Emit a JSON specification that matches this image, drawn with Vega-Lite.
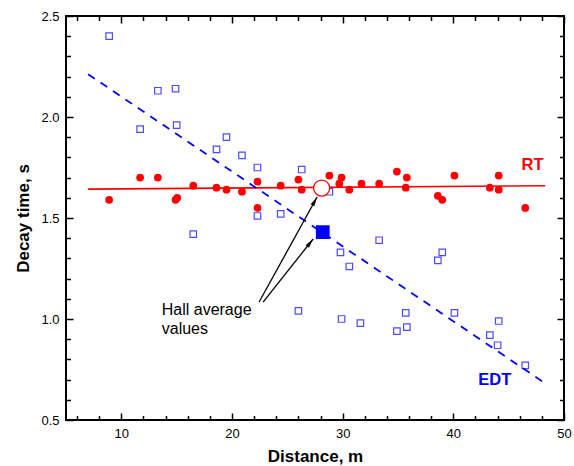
{
  "$schema": "https://vega.github.io/schema/vega-lite/v6.json",
  "width": 498,
  "height": 404,
  "autosize": "none",
  "padding": {"left": 66, "top": 16, "right": 10, "bottom": 46},
  "background": "white",
  "config": {
    "view": {"stroke": null},
    "font": "Liberation Sans",
    "axis": {
      "grid": false,
      "domain": false,
      "ticks": true,
      "tickColor": "#000000",
      "tickWidth": 1.5,
      "labelColor": "black",
      "titleColor": "black",
      "labelFont": "Liberation Sans",
      "titleFont": "Liberation Sans",
      "labelFontSize": 13,
      "titleFontSize": 17,
      "titleFontWeight": "bold",
      "labelOverlap": false,
      "labelFlush": false,
      "labelBound": false
    }
  },
  "datasets": {
    "frame": [{"x0": 5, "x1": 50, "y0": 0.5, "y1": 2.5}],
    "edt": [
      {"d": 8.9, "t": 2.40}, {"d": 11.7, "t": 1.94}, {"d": 13.3, "t": 2.13}, {"d": 14.9, "t": 2.14},
      {"d": 15.0, "t": 1.96}, {"d": 16.5, "t": 1.42}, {"d": 18.6, "t": 1.84}, {"d": 19.5, "t": 1.90},
      {"d": 20.9, "t": 1.81}, {"d": 22.3, "t": 1.75}, {"d": 22.3, "t": 1.51}, {"d": 24.4, "t": 1.52},
      {"d": 26.0, "t": 1.04}, {"d": 26.3, "t": 1.74}, {"d": 28.8, "t": 1.63}, {"d": 29.8, "t": 1.33},
      {"d": 29.9, "t": 1.00}, {"d": 30.6, "t": 1.26}, {"d": 31.6, "t": 0.98}, {"d": 33.3, "t": 1.39},
      {"d": 34.9, "t": 0.94}, {"d": 35.7, "t": 1.03}, {"d": 35.8, "t": 0.96}, {"d": 38.6, "t": 1.29},
      {"d": 39.0, "t": 1.33}, {"d": 40.1, "t": 1.03}, {"d": 43.3, "t": 0.92}, {"d": 44.1, "t": 0.99},
      {"d": 44.0, "t": 0.87}, {"d": 46.5, "t": 0.77}
    ],
    "rt": [
      {"d": 8.9, "t": 1.59}, {"d": 11.7, "t": 1.70}, {"d": 13.3, "t": 1.70}, {"d": 14.9, "t": 1.59},
      {"d": 15.05, "t": 1.60}, {"d": 16.5, "t": 1.66}, {"d": 18.6, "t": 1.65}, {"d": 19.5, "t": 1.64},
      {"d": 20.9, "t": 1.63}, {"d": 22.3, "t": 1.68}, {"d": 22.3, "t": 1.55}, {"d": 24.4, "t": 1.66},
      {"d": 26.0, "t": 1.69}, {"d": 26.3, "t": 1.64}, {"d": 28.8, "t": 1.71}, {"d": 29.9, "t": 1.70},
      {"d": 29.7, "t": 1.67}, {"d": 30.6, "t": 1.64}, {"d": 31.7, "t": 1.67}, {"d": 33.3, "t": 1.67},
      {"d": 34.9, "t": 1.73}, {"d": 35.8, "t": 1.70}, {"d": 35.7, "t": 1.65}, {"d": 38.6, "t": 1.61},
      {"d": 39.0, "t": 1.59}, {"d": 40.1, "t": 1.71}, {"d": 43.3, "t": 1.65}, {"d": 44.1, "t": 1.71},
      {"d": 44.1, "t": 1.64}, {"d": 46.5, "t": 1.55}
    ],
    "rtfit": [{"d": 7.0, "t": 1.643}, {"d": 48.3, "t": 1.66}],
    "edtfit": [{"d": 7.0, "t": 2.212}, {"d": 48.2, "t": 0.685}],
    "rtavg": [{"d": 28.1, "t": 1.648}],
    "edtavg": [{"d": 28.2, "t": 1.43}],
    "arrows": [
      {"d": 22.45, "t": 1.084, "d2": 27.69, "t2": 1.604, "which": "RT"},
      {"d": 22.81, "t": 1.084, "d2": 27.33, "t2": 1.396, "which": "EDT"}
    ],
    "labels": [
      {"d": 47.15, "t": 1.76, "txt": "RT", "series": "RT"},
      {"d": 43.75, "t": 0.70, "txt": "EDT", "series": "EDT"}
    ],
    "note": [{"d": 13.65, "t": 1.02, "txt": "Hall average\nvalues"}]
  },
  "layer": [
    {
      "data": {"name": "frame"},
      "mark": {"type": "rect", "filled": false, "color": "#000000", "strokeWidth": 2},
      "encoding": {
        "x": {"field": "x0", "type": "quantitative", "scale": {"domain": [5, 50], "nice": false, "zero": false},
          "axis": {
            "orient": "bottom", "title": "Distance, m",
            "values": [10, 20, 30, 40, 50],
            "tickSize": -7, "labelPadding": 14, "titlePadding": 8
          }},
        "x2": {"field": "x1"},
        "y": {"field": "y0", "type": "quantitative", "scale": {"domain": [0.5, 2.5], "nice": false, "zero": false},
          "axis": {
            "orient": "left", "title": "Decay time, s",
            "values": [0.5, 1.0, 1.5, 2.0, 2.5], "format": ".1f",
            "tickSize": -7, "labelPadding": 14, "titlePadding": 8
          }},
        "y2": {"field": "y1"}
      }
    },
    {
      "data": {"name": "rtfit"},
      "mark": {"type": "line", "color": "#FF0000", "strokeWidth": 1.6},
      "encoding": {
        "x": {"field": "d", "type": "quantitative",
          "axis": {"orient": "top", "title": null, "labels": false, "values": [10, 20, 30, 40, 50], "tickSize": -7}},
        "y": {"field": "t", "type": "quantitative",
          "axis": {"orient": "right", "title": null, "labels": false, "values": [0.5, 1.0, 1.5, 2.0, 2.5], "tickSize": -7}}
      }
    },
    {
      "data": {"name": "edtfit"},
      "mark": {"type": "line", "color": "#0000FF", "strokeWidth": 1.8, "strokeDash": [8, 7]},
      "encoding": {
        "x": {"field": "d", "type": "quantitative", "axis": null},
        "y": {"field": "t", "type": "quantitative", "axis": null}
      }
    },
    {
      "data": {"name": "edt"},
      "mark": {"type": "point", "shape": "square", "filled": false, "color": "#0000FF", "size": 42, "strokeWidth": 1.2},
      "encoding": {
        "x": {"field": "d", "type": "quantitative",
          "axis": {"orient": "bottom", "title": null, "labels": false,
            "values": [6, 8, 12, 14, 16, 18, 22, 24, 26, 28, 32, 34, 36, 38, 42, 44, 46, 48], "tickSize": -4.5}},
        "y": {"field": "t", "type": "quantitative",
          "axis": {"orient": "left", "title": null, "labels": false,
            "values": [0.6, 0.7, 0.8, 0.9, 1.1, 1.2, 1.3, 1.4, 1.6, 1.7, 1.8, 1.9, 2.1, 2.2, 2.3, 2.4], "tickSize": -4.5}}
      }
    },
    {
      "data": {"name": "rt"},
      "mark": {"type": "point", "shape": "circle", "filled": true, "color": "#FF0000", "opacity": 1, "size": 60},
      "encoding": {
        "x": {"field": "d", "type": "quantitative",
          "axis": {"orient": "top", "title": null, "labels": false,
            "values": [6, 8, 12, 14, 16, 18, 22, 24, 26, 28, 32, 34, 36, 38, 42, 44, 46, 48], "tickSize": -4.5}},
        "y": {"field": "t", "type": "quantitative",
          "axis": {"orient": "right", "title": null, "labels": false,
            "values": [0.6, 0.7, 0.8, 0.9, 1.1, 1.2, 1.3, 1.4, 1.6, 1.7, 1.8, 1.9, 2.1, 2.2, 2.3, 2.4], "tickSize": -4.5}}
      }
    },
    {
      "data": {"name": "edtavg"},
      "mark": {"type": "point", "shape": "square", "filled": true, "color": "#0000FF", "opacity": 1, "size": 190},
      "encoding": {
        "x": {"field": "d", "type": "quantitative", "axis": null},
        "y": {"field": "t", "type": "quantitative", "axis": null}
      }
    },
    {
      "data": {"name": "rtavg"},
      "mark": {"type": "point", "shape": "circle", "filled": true, "fill": "white", "stroke": "#FF0000", "strokeWidth": 1.3, "opacity": 1, "size": 260},
      "encoding": {
        "x": {"field": "d", "type": "quantitative", "axis": null},
        "y": {"field": "t", "type": "quantitative", "axis": null}
      }
    },
    {
      "data": {"name": "arrows"},
      "mark": {"type": "rule", "color": "black", "strokeWidth": 1.3},
      "encoding": {
        "x": {"field": "d", "type": "quantitative", "axis": null},
        "y": {"field": "t", "type": "quantitative", "axis": null},
        "x2": {"field": "d2"},
        "y2": {"field": "t2"}
      }
    },
    {
      "data": {"name": "arrows"},
      "transform": [{"filter": "datum.which === 'RT'"}],
      "mark": {"type": "point", "shape": "M0,0L-0.45,2L0.45,2Z", "filled": true, "color": "black", "opacity": 1, "size": 90, "angle": 29},
      "encoding": {
        "x": {"field": "d2", "type": "quantitative", "axis": null},
        "y": {"field": "t2", "type": "quantitative", "axis": null}
      }
    },
    {
      "data": {"name": "arrows"},
      "transform": [{"filter": "datum.which === 'EDT'"}],
      "mark": {"type": "point", "shape": "M0,0L-0.45,2L0.45,2Z", "filled": true, "color": "black", "opacity": 1, "size": 90, "angle": 38},
      "encoding": {
        "x": {"field": "d2", "type": "quantitative", "axis": null},
        "y": {"field": "t2", "type": "quantitative", "axis": null}
      }
    },
    {
      "data": {"name": "labels"},
      "mark": {"type": "text", "font": "Liberation Sans", "fontSize": 16.5, "fontWeight": "bold", "align": "center", "baseline": "middle"},
      "encoding": {
        "x": {"field": "d", "type": "quantitative", "axis": null},
        "y": {"field": "t", "type": "quantitative", "axis": null},
        "text": {"field": "txt"},
        "color": {"field": "series", "type": "nominal", "scale": {"domain": ["RT", "EDT"], "range": ["#FF0000", "#0000FF"]}, "legend": null}
      }
    },
    {
      "data": {"name": "note"},
      "mark": {"type": "text", "font": "Liberation Sans", "fontSize": 16, "align": "left", "baseline": "alphabetic", "lineBreak": "\n", "lineHeight": 19, "color": "black"},
      "encoding": {
        "x": {"field": "d", "type": "quantitative", "axis": null},
        "y": {"field": "t", "type": "quantitative", "axis": null},
        "text": {"field": "txt"}
      }
    }
  ],
  "resolve": {"axis": {"x": "independent", "y": "independent"}}
}
